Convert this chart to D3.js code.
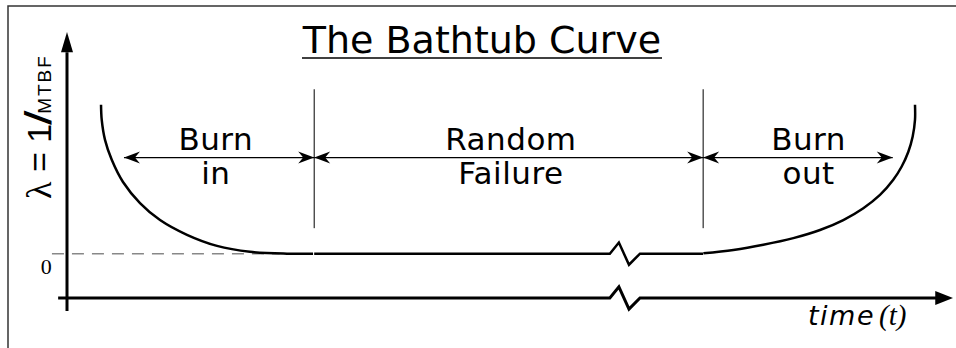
<!DOCTYPE html>
<html>
<head>
<meta charset="utf-8">
<script src="https://cdn.jsdelivr.net/npm/d3@7"></script>
<style>
  body { margin: 0; background: #fff; }
  svg { display: block; }
</style>
</head>
<body>
<div id="chart-container"></div>
<script>
// curve data, time in % of life, rate in arbitrary units (0 = useful life floor)
const burnInTime  = [3.84, 3.92, 4.29, 5.05, 6.32, 8.24, 10.5, 13.54, 16.93, 20.65, 24.83, 27.77];
const burnInRate  = [4.03, 3.62, 3.08, 2.54, 1.94, 1.37, 0.91, 0.51, 0.21, 0.05, 0.0, 0.0];
const burnOutTime = [71.82, 75.21, 78.59, 81.98, 84.99, 87.62, 89.88, 91.76, 93.26, 94.21, 94.96, 95.45, 95.71, 95.71];
const burnOutRate = [0.01, 0.10, 0.24, 0.42, 0.64, 0.91, 1.23, 1.59, 2.0, 2.36, 2.76, 3.17, 3.62, 4.03];
// flat section with the "break" zigzag
const flatTime = [27.9, 61.27, 62.29, 63.43, 64.67, 71.78];
const flatRate = [0, 0, 0.3, -0.3, 0, 0];
const breakOffset = [0, 0, 0.3, -0.3, 0, 0];

// phases
const phaseStart = [6.43, 27.9, 71.8];
const phaseEnd   = [27.9, 71.8, 93.2];
const phaseLabel = [["Burn", "in"], ["Random", "Failure"], ["Burn", "out"]];
const phaseLabelTime = [16.8, 50.1, 83.7];
const dividers = [27.9, 71.8];
const arrowRate = 2.6;

const width = 956, height = 348;
const x = d3.scaleLinear().domain([0, 100]).range([67, 953]);
const y = d3.scaleLinear().domain([-1.2, 6]).range([298, 32]);

const svg = d3.select("#chart-container")
    .append("svg")
    .attr("width", width)
    .attr("height", height);

// frame (top + left only)
svg.append("path")
    .attr("d", "M8,348 V6 H956")
    .attr("fill", "none")
    .attr("stroke", "#333")
    .attr("stroke-width", 1.5);

// arrow markers
const defs = svg.append("defs");
defs.append("marker")
    .attr("id", "barb")
    .attr("viewBox", "-17 -7 18 14")
    .attr("refX", 0).attr("refY", 0)
    .attr("markerUnits", "userSpaceOnUse")
    .attr("markerWidth", 18).attr("markerHeight", 14)
    .attr("orient", "auto-start-reverse")
    .append("path")
    .attr("d", "M0,0 L-16,-6 L-11,0 L-16,6 Z")
    .attr("fill", "#000");

// dashed zero line
svg.append("line")
    .attr("x1", x(-1.7)).attr("x2", x(24))
    .attr("y1", y(0)).attr("y2", y(0))
    .attr("stroke", "#888")
    .attr("stroke-width", 1.5)
    .attr("stroke-dasharray", "12,8");

svg.append("text")
    .attr("x", x(-2.35)).attr("y", y(0) + 20)
    .attr("text-anchor", "middle")
    .attr("font-family", "Liberation Serif, serif")
    .attr("font-size", 22)
    .text("0");

// axes
const axisLine = d3.line().x(d => x(d[0])).y(d => y(d[1]));
svg.append("path")
    .attr("d", axisLine([[0, -1.55], [0, 5.45]]))
    .attr("stroke", "#000").attr("stroke-width", 3).attr("fill", "none");
svg.append("path")
    .attr("d", `M${x(0)},${y(6)} L${x(0) - 6},${y(5.45)} L${x(0) + 6},${y(5.45)} Z`)
    .attr("fill", "#000");

const xAxisPts = [[-1, -1.2]]
    .concat(flatTime.slice(1, 5).map((t, i) => [t, -1.2 + breakOffset[i + 1]]))
    .concat([[98.2, -1.2]]);
svg.append("path")
    .attr("d", axisLine(xAxisPts))
    .attr("stroke", "#000").attr("stroke-width", 3).attr("fill", "none")
    .attr("stroke-linejoin", "miter");
svg.append("path")
    .attr("d", `M${x(100)},${y(-1.2)} L${x(98)},${y(-1.2) - 7} L${x(98)},${y(-1.2) + 7} Z`)
    .attr("fill", "#000");

// bathtub curve
const curve = d3.line()
    .x(d => x(d[0]))
    .y(d => y(d[1]))
    .curve(d3.curveCatmullRom.alpha(0.5));
const straight = d3.line().x(d => x(d[0])).y(d => y(d[1]));

svg.append("path")
    .attr("d", curve(d3.zip(burnInTime, burnInRate)))
    .attr("fill", "none").attr("stroke", "#000").attr("stroke-width", 2.5);
svg.append("path")
    .attr("d", curve(d3.zip(burnOutTime, burnOutRate)))
    .attr("fill", "none").attr("stroke", "#000").attr("stroke-width", 2.5);
svg.append("path")
    .attr("d", straight(d3.zip(flatTime, flatRate)))
    .attr("fill", "none").attr("stroke", "#000").attr("stroke-width", 2.5);

// phase dividers
svg.selectAll(".divider")
    .data(dividers)
    .enter()
    .append("line")
    .attr("class", "divider")
    .attr("x1", d => x(d)).attr("x2", d => x(d))
    .attr("y1", y(4.45)).attr("y2", y(0.69))
    .attr("stroke", "#000").attr("stroke-width", 1);

// phase arrows
svg.selectAll(".phase-arrow")
    .data(phaseStart)
    .enter()
    .append("line")
    .attr("class", "phase-arrow")
    .attr("x1", d => x(d)).attr("x2", (d, i) => x(phaseEnd[i]))
    .attr("y1", y(arrowRate)).attr("y2", y(arrowRate))
    .attr("stroke", "#000").attr("stroke-width", 1.2)
    .attr("marker-start", "url(#barb)")
    .attr("marker-end", "url(#barb)");

// phase labels
const labels = svg.selectAll(".phase-label")
    .data(phaseLabel)
    .enter()
    .append("text")
    .attr("class", "phase-label")
    .attr("text-anchor", "middle")
    .attr("font-family", "DejaVu Sans, sans-serif")
    .attr("font-size", 31)
    .attr("letter-spacing", 0.5);
labels.append("tspan")
    .attr("x", (d, i) => x(phaseLabelTime[i]))
    .attr("y", y(arrowRate) - 8)
    .text(d => d[0]);
labels.append("tspan")
    .attr("x", (d, i) => x(phaseLabelTime[i]))
    .attr("y", y(arrowRate) + 26)
    .text(d => d[1]);

// title
svg.append("text")
    .attr("x", 482).attr("y", 53)
    .attr("text-anchor", "middle")
    .attr("font-family", "DejaVu Sans, sans-serif")
    .attr("font-size", 38)
    .text("The Bathtub Curve");
svg.append("line")
    .attr("x1", 302).attr("x2", 662)
    .attr("y1", 58).attr("y2", 58)
    .attr("stroke", "#000").attr("stroke-width", 1.5);

// y label
const ylab = svg.append("text")
    .attr("transform", "translate(51,199) rotate(-90)")
    .attr("font-size", 34);
ylab.append("tspan")
    .attr("font-family", "Liberation Serif, serif")
    .attr("font-size", 36)
    .text("λ");
ylab.append("tspan")
    .attr("font-family", "Liberation Sans, sans-serif")
    .text(" = 1");
ylab.append("tspan")
    .attr("font-family", "Liberation Sans, sans-serif")
    .attr("font-weight", "bold")
    .attr("font-style", "italic")
    .attr("font-size", 36)
    .text("/");
ylab.append("tspan")
    .attr("font-family", "Liberation Sans, sans-serif")
    .attr("font-size", 19)
    .attr("letter-spacing", 2)
    .text("MTBF");

// x label
const xlab = svg.append("text")
    .attr("x", 808).attr("y", 325)
    .attr("font-size", 27)
    .attr("font-style", "italic");
xlab.append("tspan")
    .attr("font-family", "DejaVu Sans, sans-serif")
    .attr("letter-spacing", 1.5)
    .text("time");
xlab.append("tspan")
    .attr("font-family", "Liberation Serif, serif")
    .attr("font-size", 29)
    .attr("dx", 4)
    .text("(t)");
</script>
</body>
</html>
